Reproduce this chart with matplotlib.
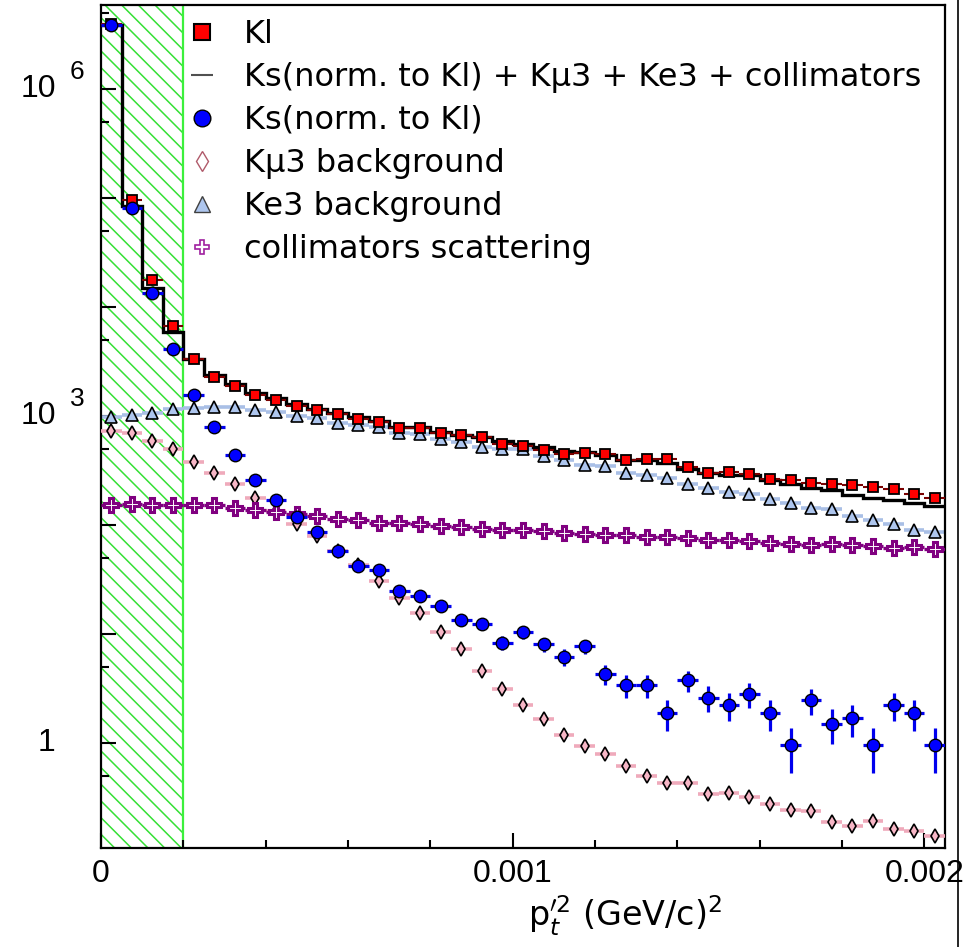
import numpy as np
import matplotlib
matplotlib.use("Agg")
import matplotlib.pyplot as plt
import matplotlib.transforms as mtransforms
from matplotlib.lines import Line2D
from matplotlib.ticker import NullFormatter

plt.rcParams["font.family"] = ["DejaVu Sans"]
plt.rcParams["mathtext.fontset"] = "dejavusans"
plt.rcParams["hatch.linewidth"] = 1.1
num_font = ["Liberation Sans", "DejaVu Sans"]

# 41 bins of 5e-5 (GeV/c)^2 from 0
n_bins = 41
bin_w = 0.00005
cut = 0.0002

kl = [3.95e6, 9.6e4, 1.77e4, 6.7e3, 3320, 2296, 1885, 1557, 1400, 1233, 1133,
      1035, 931, 885, 769, 769, 691, 667, 643, 559, 528, 492, 452, 458, 446,
      393, 401, 401, 341, 300, 306, 292, 262, 257, 243, 240, 231, 223, 215,
      191, 178]
total = [3.9e6, 8.4e4, 1.5e4, 5.96e3, 3320, 2382, 1954, 1615, 1452, 1288, 1159,
         1070, 971, 904, 796, 785, 715, 667, 643, 591, 559, 514, 473, 468, 436,
         393, 393, 371, 329, 300, 286, 286, 257, 240, 220, 208, 187, 178, 171,
         159, 148]
ks = [3.89e6, 8.13e4, 1.35e4, 4.12e3, 1560, 785, 436, 257, 168, 118, 86, 58,
      42, 38.7, 24.9, 22.4, 17.9, 13.5, 12.3, 8.3, 10.3, 8.05, 6.15, 7.66, 4.32,
      3.38, 3.38, 1.87, 3.76, 2.60, 2.22, 2.79, 1.87, 0.946, 2.46, 1.50, 1.68,
      0.946, 2.22, 1.87, 0.946]
ks_err = [850, 123, 50, 28, 17, 12, 9, 7, 5.6, 4.7, 4.0, 3.3, 2.8, 2.7, 2.2,
          2.0, 1.8, 1.6, 1.5, 1.25, 1.4, 1.2, 1.07, 1.2, 0.9, 0.8, 0.8, 0.59,
          0.84, 0.7, 0.64, 0.72, 0.59, 0.42, 0.68, 0.53, 0.56, 0.42, 0.64, 0.59,
          0.42]
kmu3 = [733, 694, 589, 498, 380, 298, 236, 177, 135, 103, 79, 57, 42.4, 30.8,
        21.2, 15.5, 10.3, 7.24, 4.57, 3.14, 2.21, 1.64, 1.19, 0.93, 0.79, 0.61,
        0.50, 0.43, 0.43, 0.339, 0.346, 0.316, 0.271, 0.239, 0.235, 0.186,
        0.171, 0.190, 0.160, 0.154, 0.138]
ke3 = [985, 1021, 1059, 1153, 1175, 1197, 1197, 1133, 1093, 998, 951, 866, 825,
       796, 700, 681, 609, 578, 520, 503, 493, 427, 393, 353, 346, 300, 286,
       272, 240, 220, 200, 194, 174, 159, 144, 141, 120, 112, 103, 90, 86]
coll = [152, 155, 152, 152, 151, 153, 144, 136, 131, 127, 122, 114, 110, 105,
        104, 103, 97, 95, 92, 90, 89, 87, 85, 83, 81, 80, 78, 77, 76, 73, 72,
        71, 68, 67, 66, 67, 66, 64, 62, 62.5, 60]

edges = np.arange(n_bins + 1) * bin_w
centers = edges[:-1] + bin_w / 2
half = np.full(n_bins, bin_w / 2)

fig = plt.figure(figsize=(9.7, 9.47), dpi=100)
ax = fig.add_axes([101 / 970, 1 - 848 / 947, 844 / 970, 843 / 947])
ax.set_yscale("log")
ax.set_xlim(0, 0.00205)
ax.set_ylim(0.108, 5.94e6)

# excluded region
ax.axvspan(0, cut, facecolor="none", edgecolor="#35e035", hatch="\\\\", lw=0, zorder=1)
ax.axvline(cut, color="#3cf03c", lw=1.6, zorder=1)

ax.errorbar(centers, ke3, xerr=half, fmt="^", ms=9, mfc="#aec6ee", mec="black",
            mew=1.2, ecolor="#a9bfe6", elinewidth=2.6, zorder=2)
ax.errorbar(centers, kmu3, xerr=half, fmt="d", ms=7.5, mfc="#f7b6c6", mec="black",
            mew=1.2, ecolor="#efaabb", elinewidth=2.6, zorder=3)
ax.errorbar(centers, coll, xerr=half, fmt="P", ms=9.5, mfc="white", mec="#800080",
            mew=2.2, ecolor="#800080", elinewidth=2.4, zorder=3)
ax.stairs(total, edges, color="black", lw=2.4, baseline=None, zorder=4)
ax.errorbar(centers, kl, xerr=half, fmt="s", ms=7.5, mfc="#ff0000", mec="black",
            mew=1.3, ecolor="#7a0000", elinewidth=1.5, zorder=5)
ax.errorbar(centers, ks, xerr=half, yerr=ks_err, fmt="o", ms=9, mfc="#0000ff",
            mec="black", mew=1.0, ecolor="#0000ee", elinewidth=2.3, zorder=6)

# axes, ticks (ROOT style: inside, bottom/left only)
for s in ax.spines.values():
    s.set_linewidth(1.6)
ax.set_xticks([0, 0.001, 0.002])
ax.set_xticks(np.arange(0, 0.00205, 0.0002), minor=True)
ax.set_yticks([10.0 ** k for k in range(0, 7)])
ax.set_yticks([5 * 10.0 ** k for k in range(-1, 7)], minor=True)
ax.yaxis.set_minor_formatter(NullFormatter())
ax.tick_params(which="both", direction="in", labelbottom=False, labelleft=False,
               width=1.5, color="black")
ax.tick_params(which="major", length=11)
ax.tick_params(which="minor", length=5.5)

# tick labels
xtick_vals = [0, 0.001, 0.002]
xtick_labels = ["0", "0.001", "0.002"]
for v, lab in zip(xtick_vals, xtick_labels):
    tr = mtransforms.offset_copy(ax.get_xaxis_transform(), fig=fig, x=0, y=-26, units="dots")
    ax.text(v, 0, lab, transform=tr, ha="center", va="center", fontsize=23,
            family=num_font)

ytr = ax.get_yaxis_transform()
ax.text(-54 / 844, 1, "1", transform=ytr, ha="center", va="center", fontsize=23,
        family=num_font)
for v, exp in [(1e3, "3"), (1e6, "6")]:
    ax.text(-63 / 844, v, "10", transform=ytr, ha="center", va="center", fontsize=23,
            family=num_font)
    t2 = mtransforms.offset_copy(ytr, fig=fig, x=0, y=17, units="dots")
    ax.text(-24 / 844, v, exp, transform=t2, ha="center", va="center", fontsize=19,
            family=num_font)

fig.text(625 / 970, 1 - 916 / 947, r"p$_{t}^{\prime 2}$ (GeV/c)$^{2}$",
         ha="center", va="center", fontsize=24)

# legend
handles = [
    Line2D([], [], ls="none", marker="s", ms=11, mfc="#ff0000", mec="black", mew=1.5),
    Line2D([], [], ls="none", marker="_", ms=16, mec="#505050", mew=1.5),
    Line2D([], [], ls="none", marker="o", ms=12, mfc="#0000ff", mec="black", mew=1.0),
    Line2D([], [], ls="none", marker="d", ms=10, mfc="white", mec="#b05a6a", mew=1.0),
    Line2D([], [], ls="none", marker="^", ms=11, mfc="#aec6ee", mec="#404040", mew=1.0),
    Line2D([], [], ls="none", marker="P", ms=10, mfc="white", mec="#a020a0", mew=1.2),
]
labels = ["Kl", "Ks(norm. to Kl) + K\u03bc3 + Ke3 + collimators", "Ks(norm. to Kl)",
          "K\u03bc3 background", "Ke3 background", "collimators scattering"]
ax.legend(handles, labels, loc="upper left", bbox_to_anchor=(180 / 970, 1 - 19 / 947),
          bbox_transform=fig.transFigure, frameon=False, fontsize=23, handlelength=1.4,
          handletextpad=0.6, labelspacing=0.375, borderpad=0, borderaxespad=0)

fig.add_artist(Line2D([958 / 970, 958 / 970], [0, 1], transform=fig.transFigure,
                      color="black", lw=1.2))

fig.savefig("out.png", dpi=100)
